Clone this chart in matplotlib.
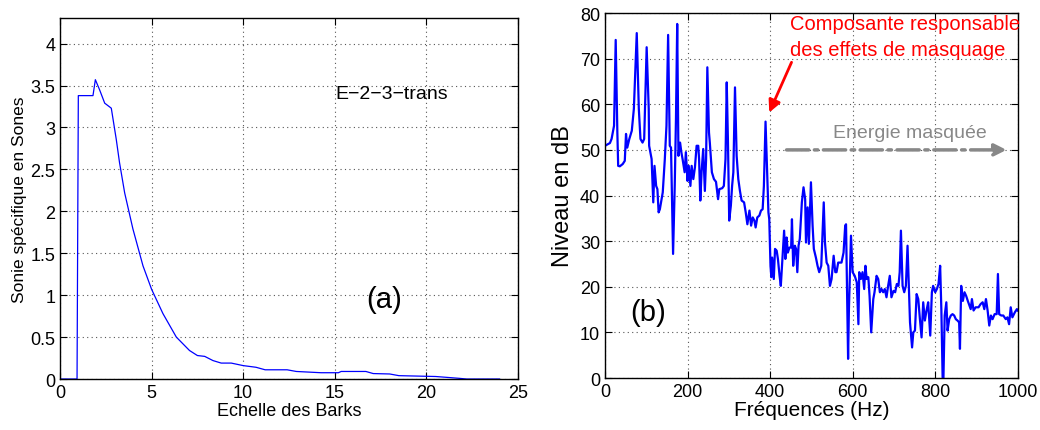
import matplotlib
matplotlib.use("Agg")
import matplotlib.pyplot as plt

plt.rcParams['font.family'] = ['Liberation Sans', 'DejaVu Sans']

# (a) specific loudness vs Bark scale
barks = [0, 0.93, 1.0, 1.8, 1.93, 2.16, 2.44, 2.8, 3.07, 3.25, 3.53, 3.98, 4.53,
         5.0, 5.62, 6.35, 7.07, 7.5, 7.9, 8.35, 8.8, 9.35, 10.0, 10.7, 11.2,
         12.4, 12.9, 14.25, 15.2, 15.35, 16.7, 17.1, 18.0, 18.5, 20.5, 21.1,
         21.8, 22.2, 24.0]
sones = [0, 0, 3.38, 3.38, 3.57, 3.45, 3.29, 3.23, 2.86, 2.58, 2.22, 1.79, 1.35,
         1.07, 0.78, 0.50, 0.34, 0.28, 0.27, 0.22, 0.19, 0.19, 0.16, 0.14, 0.11,
         0.11, 0.09, 0.075, 0.075, 0.09, 0.09, 0.065, 0.06, 0.04, 0.03, 0.02,
         0.008, 0, 0]

# (b) spectrum
freq = [0, 12, 16, 22, 26, 30, 32, 36, 43, 46, 48, 51, 54, 59, 65, 70, 77, 82, 86,
        91, 95, 101, 106, 107, 113, 117, 120, 124, 127, 130, 133, 140, 145, 149,
        153, 157, 160, 165, 169, 172, 175, 178, 182, 185, 188, 193, 196, 200,
        203, 207, 210, 214, 218, 222, 226, 228, 231, 234, 238, 242, 245, 248,
        252, 254, 259, 264, 269, 274, 277, 284, 288, 292, 295, 298, 301, 305,
        308, 311, 315, 319, 323, 327, 331, 337, 341, 345, 350, 354, 358, 362,
        365, 369, 374, 378, 382, 385, 389, 393, 396, 398, 401, 403, 405, 409,
        412, 416, 419, 423, 426, 429, 434, 437, 440, 443, 447, 451, 453, 456,
        460, 463, 466, 469, 472, 477, 481, 485, 487, 491, 494, 499, 503, 506,
        511, 515, 519, 524, 530, 533, 537, 541, 545, 549, 554, 558, 561, 565,
        573, 578, 582, 584, 589, 591, 596, 600, 605, 610, 614, 616, 620, 624,
        628, 631, 634, 638, 641, 645, 650, 653, 658, 662, 666, 670, 674, 678,
        682, 686, 690, 694, 699, 703, 707, 711, 714, 717, 721, 725, 729, 733,
        737, 739, 744, 747, 751, 755, 759, 763, 767, 771, 775, 779, 783, 788,
        792, 795, 800, 804, 808, 812, 815, 818, 820, 823, 827, 830, 834, 838,
        842, 846, 850, 854, 858, 860, 863, 867, 871, 875, 879, 883, 886, 889,
        893, 898, 905, 910, 915, 919, 923, 927, 931, 935, 939, 944, 949, 952,
        955, 960, 965, 971, 975, 979, 983, 987, 993, 998, 1000]
level = [50.9, 51.5, 52.4, 55.3, 74.1, 53.8, 46.5, 46.4, 46.9, 47.3, 47.6, 53.5,
         50.5, 52.4, 54.2, 59, 75.6, 59, 52.4, 51.6, 52.4, 72.5, 59, 50.9, 48,
         38.5, 46.5, 42.1, 41.4, 36.3, 37, 40.7, 48, 55.3, 75.2, 50.9, 50.5,
         27.2, 42.1, 56.8, 77.6, 48.7, 51.6, 49.5, 48, 45.1, 49.5, 43.2, 46.5,
         42.1, 46.5, 43.6, 46.2, 50.9, 50.9, 48, 38.9, 45.1, 50.2, 41, 48, 68.1,
         53.8, 51.6, 45.1, 43.6, 43, 39.2, 41.4, 41.6, 42.1, 48, 64.8, 51.6,
         34.5, 37.8, 42.1, 45.1, 63.7, 48.7, 43.6, 41, 38.9, 38.5, 36.3, 33.7,
         36.7, 33.4, 35.2, 34.5, 33, 35.2, 35.6, 36.7, 37, 42.1, 56.2, 45.1,
         36.3, 34.8, 24.6, 22.1, 26.4, 21.7, 28.3, 27.9, 26.1, 22.4, 20.2, 24.6,
         32.3, 26.1, 30.8, 27.5, 28.6, 28.6, 34.8, 24.6, 29, 28.3, 23.2, 29,
         30.5, 38.5, 41.8, 39.2, 29.7, 37.4, 29.4, 42.9, 33.4, 28.3, 26.4, 24.6,
         23.2, 24.6, 38.5, 29.7, 25.3, 24.6, 20.2, 21.7, 26.8, 23.2, 23.2, 25.3,
         25.3, 27.5, 33.4, 33.7, 4.2, 15.1, 31.2, 23.2, 22.4, 21, 11.8, 23.2,
         21.7, 23.2, 19.5, 24.6, 21.7, 22.1, 18, 10, 17.3, 18.8, 22.4, 21.7,
         18.8, 19.5, 18.8, 19.5, 17.7, 20.2, 22.4, 17.7, 19.1, 18.8, 20.6, 20.2,
         23.2, 32.3, 20.2, 18.8, 20.2, 29, 17.3, 12.2, 6.7, 10, 10.4, 18.4,
         17.3, 12.9, 8.9, 16.6, 12.6, 14.8, 16.6, 9.3, 18.8, 20.2, 18.8, 19.5,
         20.6, 24.6, 14.8, 0.1, 0, 13.7, 16.6, 10.4, 12.9, 13.7, 14, 13.7, 12.9,
         12.6, 12.2, 6.4, 20.2, 16.9, 18.8, 18, 16.9, 15.9, 15.1, 17.3, 14.8,
         15.5, 15.5, 16.2, 16.6, 15.1, 17.3, 14.8, 11.5, 13.7, 12.9, 14, 14,
         22.8, 14, 13.7, 13.7, 12.9, 13.3, 11.8, 15.5, 13.3, 14.4, 15.1, 14.8]

fig = plt.figure(figsize=(10.4, 4.31), dpi=100)
ax1 = fig.add_axes([0.0577, 0.1183, 0.4403, 0.8365])
ax2 = fig.add_axes([0.5817, 0.1206, 0.3969, 0.8469])

for ax in (ax1, ax2):
    ax.grid(True, linestyle=(0, (1, 3)), color='#555555', linewidth=0.8)
    ax.tick_params(direction='in', top=True, right=True, labelsize=13,
                   length=5, width=0.8)
    for s in ax.spines.values():
        s.set_linewidth(1.0)

# panel (a)
ax1.plot(barks, sones, color='#0000ff', linewidth=0.9)
ax1.set_xlim(0, 25)
ax1.set_ylim(0, 4.3)
ax1.set_xticks([0, 5, 10, 15, 20, 25])
ax1.set_yticks([0, 0.5, 1, 1.5, 2, 2.5, 3, 3.5, 4])
ax1.set_yticklabels(['0', '0.5', '1', '1.5', '2', '2.5', '3', '3.5', '4'])
ax1.set_xlabel('Echelle des Barks', fontsize=13, labelpad=1)
ax1.set_ylabel('Sonie spécifique en Sones', fontsize=12.5, labelpad=2)
ax1.text(15.05, 3.41, 'E\u22122\u22123\u2212trans', fontsize=14, va='center')
ax1.text(17.7, 0.95, '(a)', fontsize=21, ha='center', va='center')

# panel (b)
ax2.plot(freq, level, color='#0000ff', linewidth=1.6)
ax2.set_xlim(0, 1000)
ax2.set_ylim(0, 80)
ax2.set_xticks(range(0, 1001, 200))
ax2.set_yticks(range(0, 81, 10))
ax2.set_xlabel('Fréquences (Hz)', fontsize=15, labelpad=0)
ax2.set_ylabel('Niveau en dB', fontsize=17, labelpad=4)
ax2.text(105, 14.4, '(b)', fontsize=21, ha='center', va='center')

ax2.annotate('', xy=(398, 58.2), xytext=(452, 69.2),
             arrowprops=dict(arrowstyle='-|>', color='red', lw=2,
                             mutation_scale=18, shrinkA=0, shrinkB=0))
ax2.text(448, 74.85, 'Composante responsable\ndes effets de masquage',
         color='red', fontsize=14.5, ha='left', va='center', linespacing=1.5)

ax2.annotate('', xy=(973, 50), xytext=(440, 50),
             arrowprops=dict(arrowstyle='-|>', color='#888888', lw=2.5,
                             linestyle='-.', mutation_scale=18,
                             shrinkA=0, shrinkB=0))
ax2.text(739, 53.8, 'Energie masquée', color='#888888', fontsize=14,
         ha='center', va='center')

fig.savefig('out.png', dpi=100)
